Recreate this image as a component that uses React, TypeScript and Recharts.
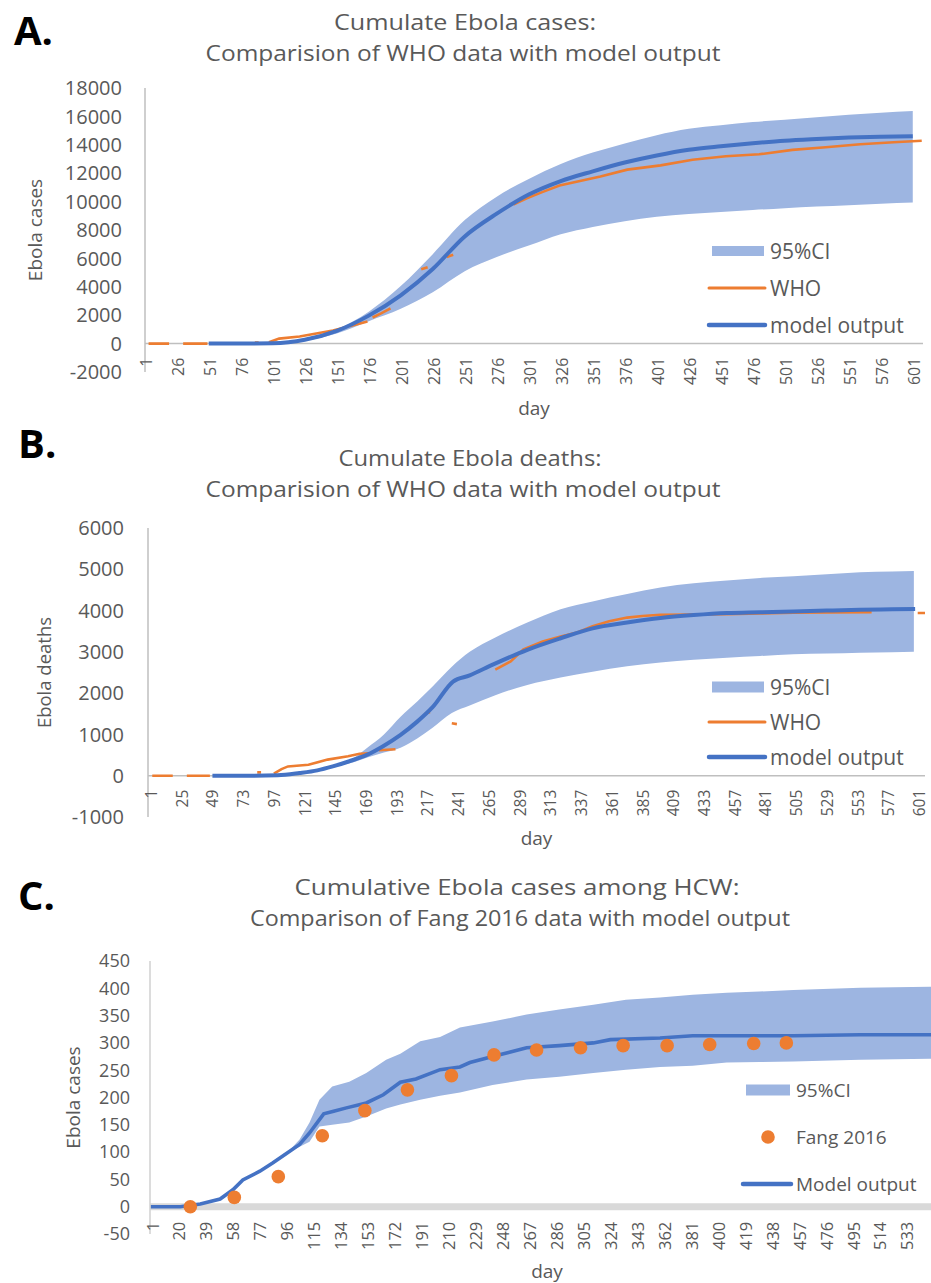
import React from 'react';
import { ComposedChart, Area, Line, Scatter, XAxis, YAxis, ReferenceLine, Label } from 'recharts';

const FONT = '"Open Sans", "Liberation Sans", sans-serif';
const GREY = '#595959';
const AXIS_GREY = '#bfbfbf';
const BAND = '#9db5e1';
const BLUE = '#4472c4';
const ORANGE = '#ed7d31';

// ---------- Panel A : cumulative cases ----------
const A_X_TICKS = [1, 26, 51, 76, 101, 126, 151, 176, 201, 226, 251, 276, 301, 326, 351, 376, 401, 426, 451, 476, 501, 526, 551, 576, 601];
const A_Y_TICKS = [-2000, 0, 2000, 4000, 6000, 8000, 10000, 12000, 14000, 16000, 18000];
const A_DAYS = [50, 75, 100, 125, 150, 175, 200, 225, 250, 275, 300, 325, 350, 375, 400, 425, 450, 475, 500, 525, 550, 575, 600];
const A_MODEL = [0, 0, 20, 270, 900, 1970, 3400, 5250, 7550, 9150, 10500, 11450, 12130, 12750, 13250, 13650, 13900, 14110, 14290, 14410, 14510, 14570, 14610];
const A_CI_HIGH = [0, 0, 30, 320, 1000, 2250, 4050, 6300, 8700, 10350, 11600, 12650, 13450, 14100, 14680, 15130, 15380, 15600, 15770, 15940, 16110, 16260, 16380];
const A_CI_LOW = [0, 0, 10, 200, 720, 1580, 2450, 3620, 5100, 6100, 6900, 7700, 8220, 8620, 8930, 9130, 9270, 9410, 9540, 9650, 9750, 9850, 9930];
const A_WHO_DAYS = [3, 19, 20, 30, 49, 50, 86, 89, 90, 97, 105, 121, 134, 147, 157, 158, 160, 174, 175, 178, 185, 192, 193, 216, 221, 222, 236, 241, 242, 288, 298, 310, 324, 340, 356, 377, 403, 428, 454, 480, 506, 532, 559, 585, 607];
const A_WHO = [0, 0, null, 0, 0, null, 80, 80, null, 100, 350, 500, 710, 920, 1150, null, 1220, 1560, null, 1840, 2150, 2480, null, 5240, 5380, null, 6100, 6250, null, 9790, 10210, 10650, 11130, 11450, 11770, 12250, 12550, 12950, 13190, 13330, 13640, 13830, 14040, 14180, 14280];

// ---------- Panel B : cumulative deaths ----------
const B_X_TICKS = [1, 25, 49, 73, 97, 121, 145, 169, 193, 217, 241, 265, 289, 313, 337, 361, 385, 409, 433, 457, 481, 505, 529, 553, 577, 601];
const B_Y_TICKS = [-1000, 0, 1000, 2000, 3000, 4000, 5000, 6000];
const B_MODEL_DAYS = [49, 75, 100, 117, 131, 143, 156, 170, 182, 196, 209, 221, 237, 250, 268, 295, 321, 346, 373, 399, 425, 451, 477, 503, 529, 555, 580, 598];
const B_MODEL = [0, 0, 10, 65, 130, 225, 350, 510, 710, 990, 1310, 1660, 2280, 2430, 2690, 3050, 3330, 3570, 3710, 3820, 3890, 3940, 3960, 3980, 4000, 4020, 4030, 4040];
const B_CI_DAYS = [49, 100, 150, 160, 170, 183, 196, 209, 221, 236, 250, 270, 295, 321, 346, 373, 399, 425, 451, 477, 503, 529, 555, 580, 597];
const B_CI_HIGH = [0, 10, 320, 450, 680, 1000, 1430, 1800, 2160, 2640, 3000, 3350, 3710, 4030, 4220, 4400, 4560, 4660, 4730, 4790, 4830, 4880, 4930, 4945, 4960];
const B_CI_LOW = [0, 10, 260, 330, 440, 560, 680, 900, 1160, 1520, 1700, 1950, 2200, 2380, 2520, 2650, 2740, 2810, 2860, 2900, 2940, 2960, 2980, 2990, 3000];
const B_WHO_DAYS = [2, 18, 19, 29, 47, 48, 84, 87, 88, 97, 103, 108, 124, 139, 155, 164, 172, 173, 179, 192, 193, 215, 219, 220, 236, 240, 241, 270, 282, 292, 307, 321, 334, 346, 359, 373, 385, 399, 425, 451, 477, 503, 530, 564, 565, 600, 607];
const B_WHO = [0, 0, null, 0, 0, null, 80, 80, null, 50, 160, 225, 265, 390, 470, 530, 545, null, 615, 640, null, 1500, 1540, null, 1270, 1250, null, 2570, 2770, 3060, 3250, 3370, 3470, 3620, 3740, 3830, 3870, 3900, 3905, 3910, 3930, 3950, 3955, 3960, null, 3940, 3940];

// ---------- Panel C : cases among HCW ----------
const C_X_TICKS = [1, 20, 39, 58, 77, 96, 115, 134, 153, 172, 191, 210, 229, 248, 267, 286, 305, 324, 343, 362, 381, 400, 419, 438, 457, 476, 495, 514, 533];
const C_Y_TICKS = [-50, 0, 50, 100, 150, 200, 250, 300, 350, 400, 450];
const C_MODEL_DAYS = [0, 21, 35, 49, 58, 65, 77, 86, 96, 105, 112, 122, 129, 138, 152, 164, 176, 187, 204, 218, 225, 241, 265, 288, 312, 324, 359, 382, 453, 500, 549, 560];
const C_MODEL = [0, 0, 5, 14, 31, 49, 65, 80, 98, 114, 135, 170, 175, 181, 190, 205, 228, 234, 251, 256, 264, 275, 291, 295, 300, 306, 309, 313, 313, 315, 315, 315];
const C_CI_DAYS = [96, 105, 112, 119, 128, 140, 152, 166, 176, 190, 204, 218, 241, 265, 288, 312, 335, 359, 382, 406, 429, 453, 500, 549, 560];
const C_CI_HIGH = [98, 123, 154, 196, 220, 229, 245, 269, 280, 303, 311, 328, 339, 352, 361, 370, 379, 383, 388, 392, 394, 397, 401, 403, 403];
const C_CI_LOW = [98, 110, 119, 147, 150, 154, 165, 180, 187, 196, 203, 209, 223, 233, 238, 245, 251, 256, 258, 264, 265, 266, 269, 271, 271];
const C_FANG_DAYS = [28, 59, 90, 121, 151, 181, 212, 242, 272, 303, 333, 364, 394, 425, 448];
const C_FANG = [0, 17, 55, 130, 176, 214, 240, 278, 287, 291, 295, 295, 297, 299, 300];

// ---------- data objects built from the arrays ----------
const aBand = A_DAYS.map((d, i) => ({ day: d, ci: [A_CI_LOW[i], A_CI_HIGH[i]] }));
const aModel = A_DAYS.map((d, i) => ({ day: d, model: A_MODEL[i] }));
const aWho = A_WHO_DAYS.map((d, i) => ({ day: d, who: A_WHO[i] }));
const bBand = B_CI_DAYS.map((d, i) => ({ day: d, ci: [B_CI_LOW[i], B_CI_HIGH[i]] }));
const bModel = B_MODEL_DAYS.map((d, i) => ({ day: d, model: B_MODEL[i] }));
const bWho = B_WHO_DAYS.map((d, i) => ({ day: d, who: B_WHO[i] }));
const cBand = C_CI_DAYS.map((d, i) => ({ day: d, ci: [C_CI_LOW[i], C_CI_HIGH[i]] }));
const cModel = C_MODEL_DAYS.map((d, i) => ({ day: d, model: C_MODEL[i] }));
const cFang = C_FANG_DAYS.map((d, i) => ({ day: d, fang: C_FANG[i] }));

// ---------- layout ----------
const A = { top: 0, h: 430, w: 931, m: { top: 88, right: 8, bottom: 18, left: 0 }, yw: 145, xDom: [0.2, 608], yDom: [-2000, 18000] };
const B = { top: 430, h: 440, w: 931, m: { top: 98, right: 6, bottom: 13, left: 0 }, yw: 148, xDom: [-1.34, 605.7], yDom: [-1000, 6000] };
const C = { top: 870, h: 413, w: 944, m: { top: 91, right: 0, bottom: 9, left: 0 }, yw: 150, xDom: [-0.41, 559.1], yDom: [-50, 450] };
const X_AXIS_H = 40;

const zeroY = (p: any) => {
  const plotH = p.h - p.m.top - p.m.bottom - X_AXIS_H;
  return p.m.top + (p.yDom[1] / (p.yDom[1] - p.yDom[0])) * plotH;
};

const RotTick = (props: any) => {
  const { x, payload, zy, gap, fs } = props;
  return (
    <text
      transform={`translate(${x},${zy + gap}) rotate(-90)`}
      textAnchor="end"
      dominantBaseline="central"
      fontSize={fs}
      fill={GREY}
      fontFamily={FONT}
    >
      {payload.value}
    </text>
  );
};

const yTitle = (text: string, cx: number, fs: number) => (props: any) => {
  const vb = props.viewBox;
  const cy = vb.y + vb.height / 2;
  return (
    <text x={cx} y={cy} transform={`rotate(-90 ${cx} ${cy})`} textAnchor="middle" dominantBaseline="central" fontSize={fs} fill={GREY} fontFamily={FONT}>
      {text}
    </text>
  );
};

const xTitle = (text: string, dy: number, fs: number) => (props: any) => {
  const vb = props.viewBox;
  return (
    <text x={vb.x + vb.width / 2} y={vb.y + dy} textAnchor="middle" fontSize={fs} fill={GREY} fontFamily={FONT}>
      {text}
    </text>
  );
};

const FangDot = (props: any) => <circle cx={props.cx} cy={props.cy} r={6.8} fill={ORANGE} />;

const Legend3 = ({ x, y, gap, fs, second, swW, swH, textX }: any) => (
  <g fontFamily={FONT} fontSize={fs} fill={GREY}>
    <rect x={x} y={y - swH / 2} width={swW} height={swH} fill={BAND} />
    <text x={textX} y={y} dominantBaseline="central">95%CI</text>
    {second === 'who' ? (
      <>
        <line x1={x - 3} x2={x + swW + 1} y1={y + gap} y2={y + gap} stroke={ORANGE} strokeWidth={3} strokeLinecap="round" />
        <text x={textX} y={y + gap} dominantBaseline="central">WHO</text>
      </>
    ) : (
      <>
        <circle cx={x + swW / 2} cy={y + gap} r={6.8} fill={ORANGE} />
        <text x={textX} y={y + gap} dominantBaseline="central">Fang 2016</text>
      </>
    )}
    <line x1={x - 3} x2={x + swW + 1} y1={y + 2 * gap} y2={y + 2 * gap} stroke={BLUE} strokeWidth={4.5} strokeLinecap="round" />
    <text x={textX} y={y + 2 * gap} dominantBaseline="central">{second === 'who' ? 'model output' : 'Model output'}</text>
  </g>
);

const Title = ({ x, y, w, children }: any) => (
  <text x={x} y={y} textLength={w} lengthAdjust="spacingAndGlyphs">{children}</text>
);

export default function App() {
  const yTickStyle = (fs: number) => ({ fill: GREY, fontSize: fs, fontFamily: FONT });
  return (
    <div style={{ position: 'absolute', left: 0, top: 0, width: 931, height: 1283, overflow: 'hidden', background: '#fff' }}>
      {/* Panel A */}
      <div style={{ position: 'absolute', left: 0, top: A.top }}>
        <ComposedChart width={A.w} height={A.h} margin={A.m}>
          <XAxis type="number" dataKey="day" domain={A.xDom} ticks={A_X_TICKS} interval={0} allowDataOverflow axisLine={false} tickLine={false} height={X_AXIS_H}
            tick={(p: any) => <RotTick {...p} zy={zeroY(A)} gap={14} fs={16} />}>
            <Label content={xTitle('day', 43, 19)} />
          </XAxis>
          <YAxis type="number" domain={A.yDom} ticks={A_Y_TICKS} interval={0} allowDataOverflow width={A.yw} tickLine={false} tickSize={0} tickMargin={23}
            axisLine={{ stroke: AXIS_GREY, strokeWidth: 1.5 }} tick={yTickStyle(20)}>
            <Label content={yTitle('Ebola cases', 35, 19)} />
          </YAxis>
          <ReferenceLine y={0} stroke={AXIS_GREY} strokeWidth={1.5} />
          <Area data={aBand} dataKey="ci" type="monotone" stroke="none" fill={BAND} fillOpacity={1} isAnimationActive={false} />
          <Line data={aWho} dataKey="who" type="linear" stroke={ORANGE} strokeWidth={2.6} dot={false} connectNulls={false} isAnimationActive={false} />
          <Line data={aModel} dataKey="model" type="monotone" stroke={BLUE} strokeWidth={4} dot={false} isAnimationActive={false} />
        </ComposedChart>
      </div>

      {/* Panel B */}
      <div style={{ position: 'absolute', left: 0, top: B.top }}>
        <ComposedChart width={B.w} height={B.h} margin={B.m}>
          <XAxis type="number" dataKey="day" domain={B.xDom} ticks={B_X_TICKS} interval={0} allowDataOverflow axisLine={false} tickLine={false} height={X_AXIS_H}
            tick={(p: any) => <RotTick {...p} zy={zeroY(B)} gap={14} fs={15.5} />}>
            <Label content={xTitle('day', 28, 19)} />
          </XAxis>
          <YAxis type="number" domain={B.yDom} ticks={B_Y_TICKS} interval={0} allowDataOverflow width={B.yw} tickLine={false} tickSize={0} tickMargin={24}
            axisLine={{ stroke: AXIS_GREY, strokeWidth: 1.5 }} tick={yTickStyle(20)}>
            <Label content={yTitle('Ebola deaths', 43, 18.5)} />
          </YAxis>
          <ReferenceLine y={0} stroke={AXIS_GREY} strokeWidth={1.5} />
          <Area data={bBand} dataKey="ci" type="monotone" stroke="none" fill={BAND} fillOpacity={1} isAnimationActive={false} />
          <Line data={bWho} dataKey="who" type="linear" stroke={ORANGE} strokeWidth={2.6} dot={false} connectNulls={false} isAnimationActive={false} />
          <Line data={bModel} dataKey="model" type="monotone" stroke={BLUE} strokeWidth={4} dot={false} isAnimationActive={false} />
        </ComposedChart>
      </div>

      {/* Panel C */}
      <div style={{ position: 'absolute', left: 0, top: C.top }}>
        <ComposedChart width={C.w} height={C.h} margin={C.m}>
          <XAxis type="number" dataKey="day" domain={C.xDom} ticks={C_X_TICKS} interval={0} allowDataOverflow axisLine={false} tickLine={false} height={X_AXIS_H}
            tick={(p: any) => <RotTick {...p} zy={zeroY(C)} gap={15} fs={16.5} />}>
            <Label content={xTitle('day', 44, 19)} />
          </XAxis>
          <YAxis type="number" domain={C.yDom} ticks={C_Y_TICKS} interval={0} allowDataOverflow width={C.yw} tickLine={false} tickSize={0} tickMargin={20}
            axisLine={{ stroke: '#d0d0d0', strokeWidth: 1.5 }} tick={yTickStyle(18)}>
            <Label content={yTitle('Ebola cases', 73, 19)} />
          </YAxis>
          <ReferenceLine y={0} stroke="#d9d9d9" strokeWidth={7} />
          <Area data={cBand} dataKey="ci" type="linear" stroke="none" fill={BAND} fillOpacity={1} isAnimationActive={false} />
          <Line data={cModel} dataKey="model" type="linear" stroke={BLUE} strokeWidth={3.6} dot={false} isAnimationActive={false} />
          <Scatter data={cFang} dataKey="fang" fill={ORANGE} shape={FangDot} isAnimationActive={false} />
        </ComposedChart>
      </div>

      {/* titles, panel letters, legends */}
      <svg width={931} height={1283} style={{ position: 'absolute', left: 0, top: 0, pointerEvents: 'none' }}>
        <g fontFamily={FONT} fontWeight={700} fontSize={40} fill="#000">
          <text x={14} y={45}>A.</text>
          <text x={18} y={458}>B.</text>
          <text x={18} y={910}>C.</text>
        </g>
        <g fontFamily={FONT} fontSize={22} fill={GREY} textAnchor="middle">
          <Title x={465} y={30} w={262}>Cumulate Ebola cases:</Title>
          <Title x={463} y={61} w={515}>Comparision of WHO data with model output</Title>
          <Title x={470} y={466} w={263}>Cumulate Ebola deaths:</Title>
          <Title x={463} y={497} w={515}>Comparision of WHO data with model output</Title>
          <Title x={517} y={895} w={445}>Cumulative Ebola cases among HCW:</Title>
          <Title x={520} y={926} w={540}>Comparison of Fang 2016 data with model output</Title>
        </g>
        <Legend3 x={712} y={251} gap={37} fs={21} second="who" swW={52} swH={10} textX={770} />
        <Legend3 x={712} y={687} gap={35} fs={21} second="who" swW={52} swH={11} textX={770} />
        <Legend3 x={746} y={1090} gap={47} fs={19} second="fang" swW={44} swH={11} textX={796} />
      </svg>
    </div>
  );
}
